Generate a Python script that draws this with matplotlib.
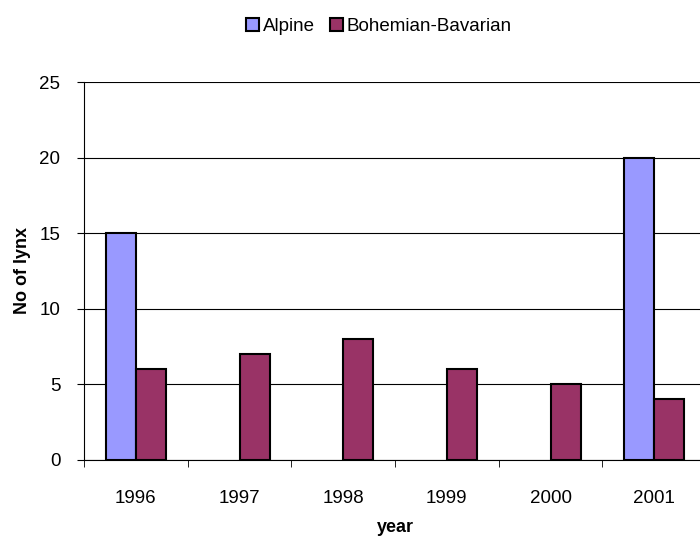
import matplotlib
matplotlib.use("Agg")
import matplotlib.pyplot as plt
import numpy as np

plt.rcParams['font.family'] = ['Liberation Sans', 'DejaVu Sans']

# Données
years = ['1996', '1997', '1998', '1999', '2000', '2001']
alpine = [15, 0, 0, 0, 0, 20]
bohemian = [6, 7, 8, 6, 5, 4]

x = np.arange(len(years))
bar_width = 0.29

fig = plt.figure(figsize=(7, 5.36), dpi=100)
ax = fig.add_axes([0.12, 0.142, 0.8886, 0.705])

b1 = ax.bar(x - bar_width/2, alpine, bar_width, color='#9999FF', edgecolor='black',
            linewidth=1.5, label='Alpine', zorder=3)
ax.bar(x + bar_width/2, bohemian, bar_width, color='#993366', edgecolor='black',
       linewidth=1.5, label='Bohemian-Bavarian', zorder=3)

# Pas de barre visible pour les valeurs nulles
for p, v in zip(b1.patches, alpine):
    if v == 0:
        p.set_visible(False)

ax.set_xlim(-0.5, len(years) - 0.5)
ax.set_ylim(0, 25)
ax.set_yticks([0, 5, 10, 15, 20, 25])
ax.yaxis.grid(True, color='black', linewidth=0.8)
ax.set_axisbelow(True)

# Graduations entre les catégories
ax.set_xticks(x)
ax.set_xticklabels(years)
ax.set_xticks(np.arange(-0.5, len(years)), minor=True)
ax.tick_params(axis='x', which='major', length=0, pad=22, labelsize=13.5)
ax.tick_params(axis='x', which='minor', length=5, color='black')
ax.tick_params(axis='y', length=5, labelsize=13.5, pad=12)

ax.spines['top'].set_visible(False)
ax.spines['right'].set_visible(False)
ax.spines['left'].set_color('black')
ax.spines['bottom'].set_color('black')

ax.set_xlabel('year', fontweight='bold', fontsize=13, labelpad=8)
ax.set_ylabel('No of lynx', fontweight='bold', fontsize=13, labelpad=6)

fig.legend(loc='center', bbox_to_anchor=(0.541, 0.951), ncol=2, frameon=False,
           fontsize=13.5, handlelength=0.7, handleheight=0.7, handletextpad=0.2,
           columnspacing=0.8)

fig.savefig('out.png', dpi=100)
